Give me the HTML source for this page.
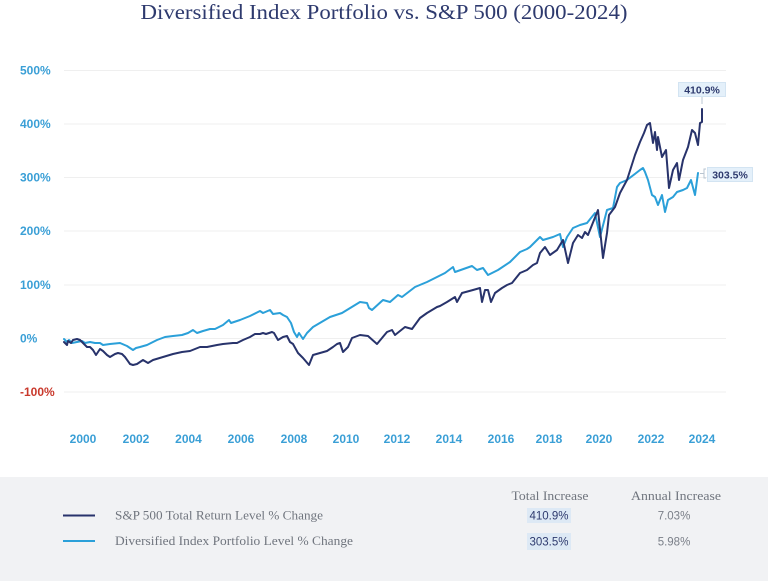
<!DOCTYPE html>
<html>
<head>
<meta charset="utf-8">
<style>
  html,body{margin:0;padding:0;background:#ffffff;}
  body{width:768px;height:581px;overflow:hidden;}
  svg{display:block;}
</style>
</head>
<body>
<svg width="768" height="581" viewBox="0 0 768 581" xmlns="http://www.w3.org/2000/svg">
  <rect x="0" y="0" width="768" height="581" fill="#ffffff"/>
  <!-- Title -->
  <text x="384" y="19" text-anchor="middle" font-family="'Liberation Serif', serif" font-size="21" fill="#2e3a6e" textLength="487" lengthAdjust="spacingAndGlyphs">Diversified Index Portfolio vs. S&amp;P 500 (2000-2024)</text>

  <!-- Gridlines -->
  <g stroke="#efefef" stroke-width="1">
    <line x1="64" y1="70.5" x2="726" y2="70.5"/>
    <line x1="64" y1="124" x2="726" y2="124"/>
    <line x1="64" y1="177.5" x2="726" y2="177.5"/>
    <line x1="64" y1="231" x2="726" y2="231"/>
    <line x1="64" y1="285" x2="726" y2="285"/>
    <line x1="64" y1="338.5" x2="726" y2="338.5"/>
    <line x1="64" y1="392" x2="726" y2="392"/>
  </g>

  <!-- Y labels -->
  <g font-family="'Liberation Sans', sans-serif" font-size="12" font-weight="bold" fill="#3a9fd6">
    <text x="20" y="74.5">500%</text>
    <text x="20" y="128">400%</text>
    <text x="20" y="181.5">300%</text>
    <text x="20" y="235">200%</text>
    <text x="20" y="289">100%</text>
    <text x="20" y="342.5">0%</text>
    <text x="20" y="396" fill="#c9392c">-100%</text>
  </g>

  <!-- X labels -->
  <g font-family="'Liberation Sans', sans-serif" font-size="12" font-weight="bold" fill="#3a9fd6" text-anchor="middle">
    <text x="83" y="443">2000</text>
    <text x="136" y="443">2002</text>
    <text x="188.5" y="443">2004</text>
    <text x="241" y="443">2006</text>
    <text x="294" y="443">2008</text>
    <text x="346" y="443">2010</text>
    <text x="397" y="443">2012</text>
    <text x="449" y="443">2014</text>
    <text x="501" y="443">2016</text>
    <text x="549" y="443">2018</text>
    <text x="599" y="443">2020</text>
    <text x="651" y="443">2022</text>
    <text x="702" y="443">2024</text>
  </g>

  <!-- Diversified (light blue) -->
  <polyline fill="none" stroke="#2ba0d9" stroke-width="2" stroke-linejoin="round" stroke-linecap="round"
    points="64,339 67,342 69,340 72,343 77,342 82,341 85,343 90,342 95,343 100,343 103,345 110,344 120,343 127,346 133,350 136,348 140,347 147,345 157,340 165,337 173,336 182,335 188,333 193,330 197,333 203,331 210,329 215,329 223,325 229,320 231,323 240,320 250,316 260,311 263,313 270,310 273,314 280,313 283,315 287,317 291,323 294,332 297,337 299,333 303,339 307,333 313,327 330,317 342,313 360,302 367,303 369,308 372,310 383,300 390,302 398,295 402,297 415,287 427,282 445,273 453,267 455,272 472,266 477,270 483,268 488,275 498,270 510,262 520,252 527,249 530,247 540,237 543,240 553,237 560,234 563,247 567,237 573,228 580,225 587,223 595,213 600,237 607,210 613,208 617,187 620,183 627,180 640,170 643,168 645,172 648,180 652,195 655,197 658,205 662,195 665,212 668,200 673,197 677,192 683,190 687,188 691,180 695,195 698,173"/>

  <!-- S&P 500 (navy) -->
  <polyline fill="none" stroke="#28336b" stroke-width="2" stroke-linejoin="round" stroke-linecap="round"
    points="64,342 67,345 68,341 71,343 73,340 77,339 80,340 83,343 87,347 90,347 93,350 96,355 100,349 103,351 107,355 110,357 115,354 118,353 122,354 125,357 130,364 133,365 137,364 143,360 148,363 153,360 163,357 173,354 182,352 190,351 200,347 207,347 217,345 223,344 233,343 237,343 243,340 250,337 255,334 260,334 263,333 266,334 272,332 274,333 278,340 283,337 287,336 290,342 293,344 298,353 303,358 309,365 313,355 320,353 327,351 333,347 337,344 340,343 343,352 348,347 352,338 360,335 368,336 377,344 387,332 392,330 395,335 405,327 412,329 420,318 427,313 437,307 440,306 447,302 455,297 457,302 462,293 473,290 480,288 482,302 485,290 488,290 491,302 495,293 502,288 507,285 512,283 520,273 527,270 533,265 537,263 540,253 545,247 550,255 557,250 563,240 568,263 573,243 578,235 582,238 585,232 588,235 592,225 598,210 603,258 607,233 609,215 615,207 620,193 627,180 635,155 640,142 644,133 647,125 650,123 653,143 655,132 657,150 658,137 662,157 666,150 669,188 673,170 677,163 679,180 683,160 688,147 692,130 695,133 698,145 700,123 702,122 702,109"/>

  <!-- 410.9% callout -->
  <line x1="702" y1="97" x2="702" y2="104" stroke="#b8c4d0" stroke-width="1"/>
  <rect x="678.5" y="82.5" width="47" height="14" fill="#e4f0fa" stroke="#d3e4f2" stroke-width="1"/>
  <text x="702" y="93.5" text-anchor="middle" font-family="'Liberation Sans', sans-serif" font-size="10.5" font-weight="bold" fill="#2e3a6e">410.9%</text>

  <!-- 303.5% callout -->
  <polyline points="706,169 704,169 704,178 706,178" fill="none" stroke="#b8c4d0" stroke-width="1"/>
  <line x1="700" y1="173.5" x2="704" y2="173.5" stroke="#b8c4d0" stroke-width="1"/>
  <rect x="707.5" y="167.5" width="45" height="14" fill="#e4f0fa" stroke="#d3e4f2" stroke-width="1"/>
  <text x="730" y="178.5" text-anchor="middle" font-family="'Liberation Sans', sans-serif" font-size="10.5" font-weight="bold" fill="#2e3a6e">303.5%</text>

  <!-- Bottom panel -->
  <rect x="0" y="477" width="768" height="104" fill="#f1f2f4"/>
  <g font-family="'Liberation Serif', serif" font-size="12.5" fill="#70757e">
    <text x="550" y="500" text-anchor="middle" textLength="77" lengthAdjust="spacingAndGlyphs">Total Increase</text>
    <text x="676" y="500" text-anchor="middle" textLength="90" lengthAdjust="spacingAndGlyphs">Annual Increase</text>
    <text x="115" y="519.5" textLength="208" lengthAdjust="spacingAndGlyphs">S&amp;P 500 Total Return Level % Change</text>
    <text x="115" y="545" textLength="238" lengthAdjust="spacingAndGlyphs">Diversified Index Portfolio Level % Change</text>
  </g>
  <line x1="63" y1="515.5" x2="95" y2="515.5" stroke="#28336b" stroke-width="2"/>
  <line x1="63" y1="541" x2="95" y2="541" stroke="#2ba0d9" stroke-width="2"/>

  <rect x="527" y="508" width="44" height="15" fill="#dde9f5"/>
  <rect x="527" y="533" width="44" height="17" fill="#dde9f5"/>
  <g font-family="'Liberation Sans', sans-serif" font-size="11.5" text-anchor="middle">
    <text x="549" y="519.5" fill="#2e3a6e">410.9%</text>
    <text x="549" y="545.5" fill="#2e3a6e">303.5%</text>
    <text x="674" y="519.5" fill="#7a7f88">7.03%</text>
    <text x="674" y="545.5" fill="#7a7f88">5.98%</text>
  </g>
</svg>
</body>
</html>
